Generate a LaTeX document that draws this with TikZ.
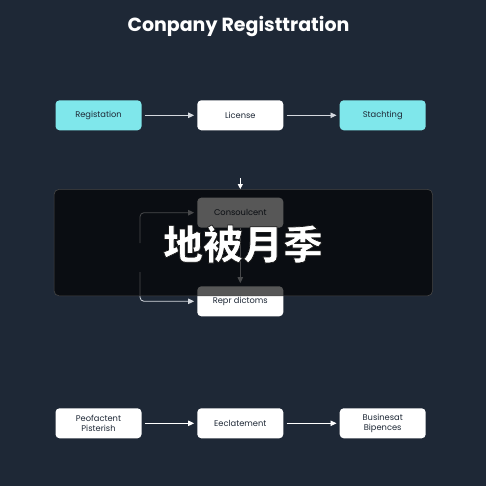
\documentclass[tikz,border=0pt]{standalone}
\usepackage{fontspec}
\setmainfont{Poppins}
\newfontfamily\cjk{Noto Sans CJK SC}
\usetikzlibrary{arrows.meta,calc}
\definecolor{bg}{HTML}{1E2836}
\definecolor{cyanbox}{HTML}{7FE7EB}
\definecolor{txt}{HTML}{1E2836}
\definecolor{arr}{HTML}{D4D8DE}
\tikzset{
  box/.style={draw=none,rounded corners=4pt,minimum width=86pt,minimum height=30pt,
    inner sep=1pt,font=\fontsize{8.3}{9.8}\selectfont,text=txt,align=center},
  cbox/.style={box,fill=cyanbox},
  wbox/.style={box,fill=white},
  flow/.style={draw=arr,line width=0.8pt,-{Triangle[length=6pt,width=5.5pt]},
    shorten <=3pt,shorten >=3pt}
}
\begin{document}
\begin{tikzpicture}[x=1pt,y=-1pt]
\fill[bg] (0,0) rectangle (486,486);
\useasboundingbox (0,0) rectangle (486,486);
\node[text=white,font=\bfseries\fontsize{19}{21}\selectfont] (title) at (238.5,27) {Conpany Registtration};
% top row
\node[cbox] (reg) at (98.5,115.3) {Registation};
\node[wbox] (lic) at (240.3,115.3) {License};
\node[cbox] (sta) at (382.7,115.3) {Stachting};
\draw[flow] (reg) -- (lic);
\draw[flow] (lic) -- (sta);
% middle
\node[wbox] (cons) at (240.3,212.7) {Consoulcent};
\node[wbox] (repr) at (240.3,301.3) {Repr dictoms};
\draw[flow,shorten <=0pt] (cons) -- (repr);
\coordinate (l1) at (140,243);
\coordinate (l2) at (140,272);
\draw[flow,rounded corners=4pt,shorten <=0pt] (l1) |- (cons.west);
\draw[flow,rounded corners=4pt,shorten <=0pt] (l2) |- (repr.west);
% overlay
\node[draw=gray!55!black,line width=0.6pt,fill=black,fill opacity=0.66,draw opacity=1,
  rounded corners=5pt,minimum width=378.5pt,minimum height=106.5pt,inner sep=0pt] (ov) at (243.3,242.6) {};
\coordinate (t1) at (240.3,178);
\draw[flow,draw=white,shorten <=0pt,shorten >=0pt,-{Triangle[length=5pt,width=5pt]}] (t1) -- (ov.north -| t1);
% CJK label with dark outline
\node[text=white,font=\cjk\bfseries\fontsize{40}{43}\selectfont] (lab) at (243,244)
  {\special{pdf:literal direct 1 j 0.7 w 0.1 0.1 0.1 RG 2 Tr}地被月季\special{pdf:literal direct 0 Tr}};
% bottom row
\node[wbox] (pf) at (98.5,423.3) {Peofactent\\Pisterish};
\node[wbox] (ec) at (240.3,423.3) {Eeclatement};
\node[wbox] (bu) at (382.7,423.3) {Businesat\\Bipences};
\draw[flow,draw=white] (pf) -- (ec);
\draw[flow,draw=white] (ec) -- (bu);
\end{tikzpicture}
\end{document}
